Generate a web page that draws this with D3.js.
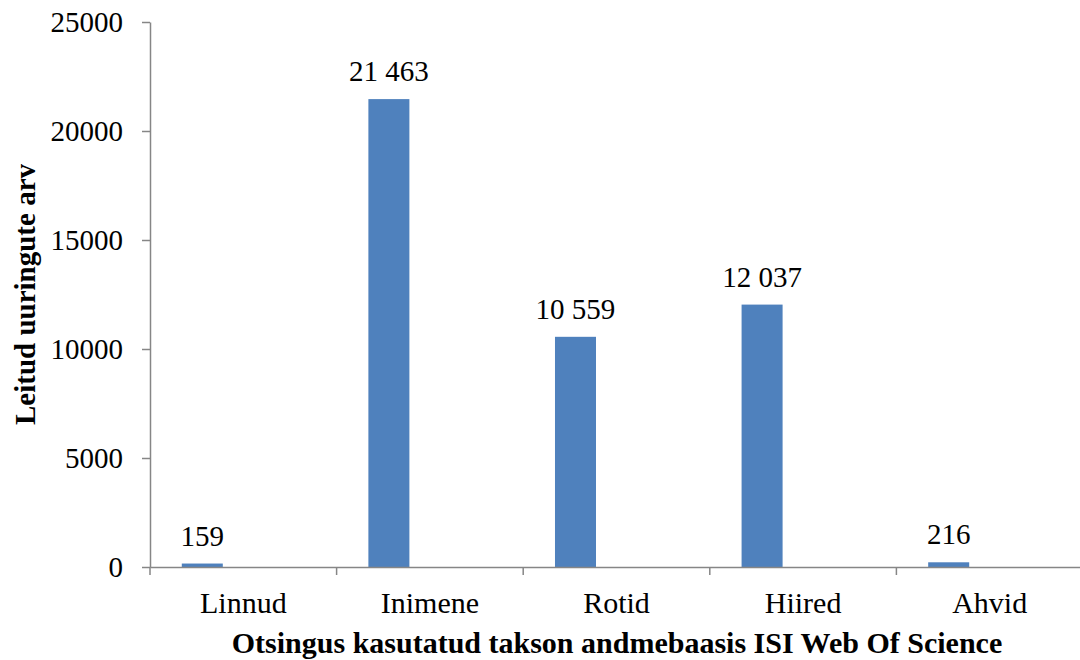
<!DOCTYPE html>
<html>
<head>
<meta charset="utf-8">
<script src="https://cdn.jsdelivr.net/npm/d3@7/dist/d3.min.js"></script>
<style>
  body { margin: 0; background: #fff; }
  svg { display: block; font-family: "Times New Roman", "Liberation Serif", serif; }
</style>
</head>
<body>
<svg id="chart" width="1080" height="660"></svg>
<script>
// data
const categories = ['Linnud', 'Inimene', 'Rotid', 'Hiired', 'Ahvid'];
const values = [159, 21463, 10559, 12037, 216];
const yTicks = [0, 5000, 10000, 15000, 20000, 25000];
const series = ['s1', 's2', 's3']; // only the first series has data

const chartW = 1080;
const plotLeft = 150, plotTop = 22, plotBottom = 567;
const band = 186.6;
const serif = '"Times New Roman", "Liberation Serif", serif';

const svg = d3.select('#chart');

const x = d3.scaleBand()
  .domain(categories)
  .range([plotLeft, plotLeft + band * categories.length])
  .padding(0);

const xSub = d3.scaleBand()
  .domain(series)
  .range([0, x.bandwidth()])
  .paddingInner(0)
  .paddingOuter(0.775);

const y = d3.scaleLinear()
  .domain([0, 25000])
  .range([plotBottom, plotTop]);

const fmt = v => d3.format(',')(v).replace(/,/g, ' ');

// bars
svg.append('g')
  .selectAll('rect')
  .data(values)
  .join('rect')
  .attr('x', (d, i) => x(categories[i]) + xSub('s1'))
  .attr('y', d => y(d))
  .attr('width', xSub.bandwidth())
  .attr('height', d => y(0) - y(d))
  .attr('fill', '#4f81bd');

// value labels
svg.append('g')
  .selectAll('text')
  .data(values)
  .join('text')
  .attr('x', (d, i) => x(categories[i]) + xSub('s1') + xSub.bandwidth() / 2)
  .attr('y', d => y(d) - 18)
  .attr('text-anchor', 'middle')
  .attr('font-family', serif)
  .attr('font-size', 29)
  .attr('fill', '#000')
  .text(d => fmt(d));

// y axis
const yAxis = svg.append('g')
  .attr('transform', `translate(${plotLeft},0)`)
  .call(d3.axisLeft(y).tickValues(yTicks).tickSize(8).tickSizeOuter(0).tickPadding(19).tickFormat(d3.format('d')));
yAxis.attr('font-family', serif);
yAxis.select('.domain').attr('stroke', '#868686').attr('stroke-width', 1.5);
yAxis.selectAll('.tick line').attr('stroke', '#868686').attr('stroke-width', 1.5);
yAxis.selectAll('.tick text')
  .attr('font-size', 29)
  .attr('fill', '#000');

// x axis
const xAxis = svg.append('g')
  .attr('transform', `translate(0,${plotBottom})`)
  .call(d3.axisBottom(x).tickSize(0).tickPadding(25));
xAxis.attr('font-family', serif);
xAxis.select('.domain').attr('stroke', '#868686').attr('stroke-width', 1.5);
xAxis.selectAll('.tick text')
  .attr('font-size', 30)
  .attr('fill', '#000');

// category separators
svg.append('g')
  .selectAll('line')
  .data(categories)
  .join('line')
  .attr('x1', d => x(d))
  .attr('x2', d => x(d))
  .attr('y1', plotBottom)
  .attr('y2', plotBottom + 8)
  .attr('stroke', '#868686')
  .attr('stroke-width', 1.5);

// axis titles
svg.append('text')
  .attr('x', 617)
  .attr('y', 653)
  .attr('text-anchor', 'middle')
  .attr('font-family', serif)
  .attr('font-size', 30)
  .attr('font-weight', 'bold')
  .text('Otsingus kasutatud takson andmebaasis ISI Web Of Science');

svg.append('text')
  .attr('transform', `translate(35,${(plotTop + plotBottom) / 2}) rotate(-90)`)
  .attr('text-anchor', 'middle')
  .attr('font-family', serif)
  .attr('font-size', 29)
  .attr('font-weight', 'bold')
  .text('Leitud uuringute arv');
</script>
</body>
</html>
